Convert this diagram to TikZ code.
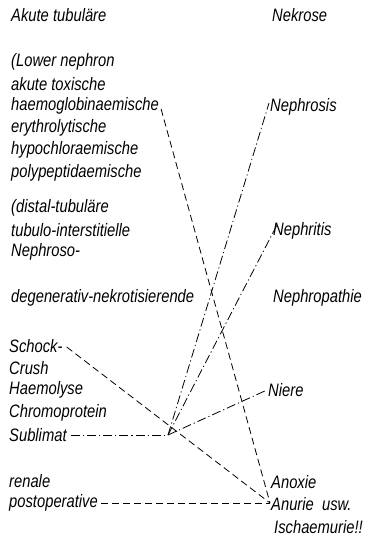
\documentclass[tikz,border=0pt]{standalone}
\usepackage{fontspec}
\newfontfamily\labfont{Liberation Sans}[FakeStretch=0.82]
\begin{document}
\begin{tikzpicture}[x=1pt,y=-1pt,
  lbl/.style={anchor=west,inner sep=1pt,font=\labfont\itshape\fontsize{18}{21}\selectfont},
  dash line/.style={line width=0.8pt,dash pattern=on 7pt off 4pt},
  dashdot line/.style={line width=0.8pt,dash pattern=on 9pt off 3pt on 1.2pt off 3pt}]
\useasboundingbox[fill=white] (0,0) rectangle (369,536);
% left column
\node[lbl] (akute) at (10,15) {Akute tubuläre};
\node[lbl] (lower) at (10,62) {(Lower nephron};
\node[lbl] (toxisch) at (10,84) {akute toxische};
\node[lbl] (haemo) at (10,106) {haemoglobinaemische};
\node[lbl] (erythro) at (10,128) {erythrolytische};
\node[lbl] (hypo) at (10,150) {hypochloraemische};
\node[lbl] (poly) at (10,173) {polypeptidaemische};
\node[lbl] (distal) at (10,208) {(distal-tubuläre};
\node[lbl] (tubulo) at (10,230) {tubulo-interstitielle};
\node[lbl] (nephroso) at (10,252) {Nephroso-};
\node[lbl] (degen) at (10,298) {degenerativ-nekrotisierende};
\node[lbl] (schock) at (8,346) {Schock-};
\node[lbl] (crush) at (8,368) {Crush};
\node[lbl] (haemolyse) at (8,390) {Haemolyse};
\node[lbl] (chromo) at (8,413) {Chromoprotein};
\node[lbl] (sublimat) at (8,435) {Sublimat};
\node[lbl] (renale) at (8,481) {renale};
\node[lbl] (postop) at (8,503) {postoperative};
% right column
\node[lbl] (nekrose) at (271,15) {Nekrose};
\node[lbl] (nephrosis) at (269,107) {Nephrosis};
\node[lbl] (nephritis) at (272,231) {Nephritis};
\node[lbl] (nephropathie) at (272,298) {Nephropathie};
\node[lbl] (niere) at (267,390) {Niere};
\node[lbl] (anoxie) at (270,482) {Anoxie};
\node[lbl] (anurie) at (270,504) {Anurie\ \ usw.};
\node[lbl] (ischaemurie) at (273,527) {Ischaemurie!!};
% junctions
\coordinate (jsub) at (168,435);
\coordinate (janu) at (270,503);
% connectors
\draw[dash line] ([shift={(1,3)}]haemo.east) -- (janu);
\draw[dash line] ([shift={(3,1)}]schock.east) -- (janu);
\draw[dash line] ([xshift=2]postop.east) -- (janu);
\draw[dashdot line] ([xshift=3]sublimat.east) -- (jsub);
\draw[dashdot line] (jsub) -- ([shift={(0,-4)}]nephrosis.west);
\draw[dashdot line] (jsub) -- ([shift={(6,-8)}]nephritis.west);
\draw[dashdot line] (jsub) -- (niere.west);
\end{tikzpicture}
\end{document}
